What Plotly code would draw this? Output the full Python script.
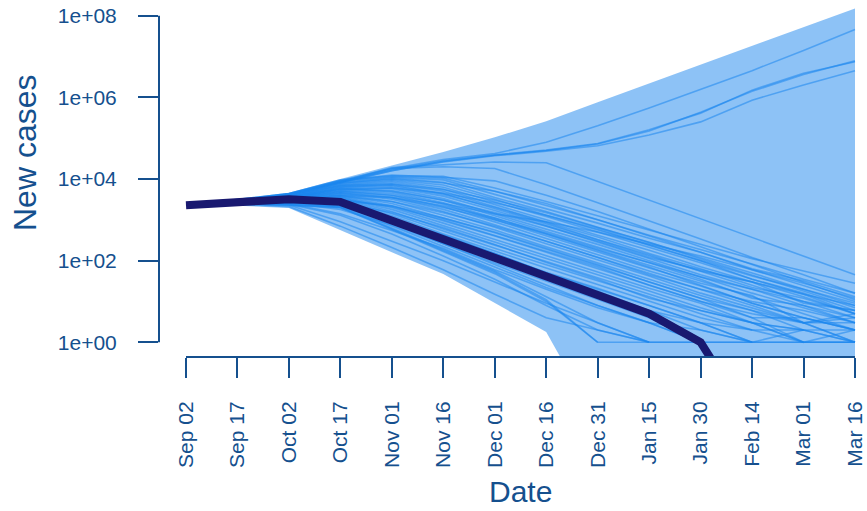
import math
import plotly.graph_objects as go

# Sampling dates (every 15 days) and their axis labels
dates = ["2020-09-02", "2020-09-17", "2020-10-02", "2020-10-17", "2020-11-01",
         "2020-11-16", "2020-12-01", "2020-12-16", "2020-12-31", "2021-01-15",
         "2021-01-30", "2021-02-14", "2021-03-01", "2021-03-16"]
tick_labels = ["Sep 02", "Sep 17", "Oct 02", "Oct 17", "Nov 01", "Nov 16", "Dec 01",
               "Dec 16", "Dec 31", "Jan 15", "Jan 30", "Feb 14", "Mar 01", "Mar 16"]

# Observed new cases
observed = [2270, 2800, 3200, 2750, 970, 340, 118, 41, 14, 5, 1, 0, 0, 0]

# Envelope of the simulated epidemics
band_upper = [2270, 3200, 4600, 1.0e4, 2.1e4, 4.6e4, 1.05e5, 2.6e5, 7.6e5,
              2.2e6, 6.3e6, 1.8e7, 5.2e7, 1.5e8]
band_lower = [2270, 2200, 1950, 560, 160, 47, 9.4, 1.8, 0, 0, 0, 0, 0, 0]

# Individual simulated trajectories
simulations = [
    [2270, 3100, 4400, 9100, 18000, 30000, 42000, 79000, 2.0e5, 5.5e5, 1.6e6, 4.5e6, 1.4e7, 4.6e7],
    [2270, 3000, 4200, 8500, 17000, 28000, 39000, 51000, 74000, 1.6e5, 4.1e5, 1.5e6, 3.9e6, 7.4e6],
    [2270, 2950, 4100, 8300, 16000, 27000, 38000, 50000, 72000, 1.5e5, 4.3e5, 1.4e6, 3.6e6, 7.8e6],
    [2270, 2950, 4000, 7900, 16000, 26000, 37000, 48000, 65000, 1.2e5, 2.5e5, 8.5e5, 2.0e6, 4.5e6],
    [2270, 3000, 4300, 8700, 19000, 22000, 26000, 25000, 8700, 3100, 1050, 360, 130, 45],
    [2270, 2950, 4200, 8300, 18000, 20000, 18000, 7200, 2600, 950, 340, 120, 45, 16],
    [2270, 3100, 4400, 9500, 12000, 11700, 6000, 2800, 1260, 560, 250, 112, 56, 28],
    [2270, 3000, 4200, 8900, 11500, 10500, 5000, 2200, 1000, 420, 190, 83, 35, 16],
    [2270, 2950, 4200, 8500, 11000, 9500, 4200, 1900, 830, 355, 160, 63, 32, 13],
    [2270, 2950, 4000, 7900, 10500, 8300, 3500, 1600, 660, 280, 120, 50, 20, 9],
    [2270, 2900, 4000, 7600, 9500, 7100, 3200, 1300, 560, 240, 100, 42, 20, 8],
    [2270, 2900, 3800, 7200, 8900, 6300, 2800, 1200, 500, 210, 89, 35, 16, 6],
    [2270, 2900, 3800, 6900, 8300, 5600, 2400, 1000, 420, 180, 71, 30, 13, 5],
    [2270, 2800, 3700, 6600, 7600, 5000, 2100, 890, 380, 150, 63, 25, 10, 4],
    [2270, 2800, 3600, 6300, 7100, 4400, 1900, 790, 320, 130, 56, 30, 9, 6],
    [2270, 2800, 3600, 6000, 6300, 3800, 1700, 710, 280, 110, 45, 20, 8, 4],
    [2270, 2800, 3500, 5800, 5800, 3300, 1400, 600, 250, 100, 40, 16, 7, 3],
    [2270, 2750, 3500, 5500, 5200, 3000, 1260, 520, 210, 89, 35, 12, 8, 3],
    [2270, 2750, 3500, 5200, 4800, 2600, 1100, 450, 190, 76, 32, 13, 5, 2],
    [2270, 2750, 3500, 5000, 4400, 2400, 1000, 400, 160, 66, 28, 14, 3, 5],
    [2270, 2750, 3400, 4800, 4000, 2100, 890, 350, 140, 56, 24, 9, 4, 2],
    [2270, 2700, 3300, 4600, 3500, 1800, 760, 300, 120, 50, 20, 8, 3, 1],
    [2270, 2700, 3300, 4400, 3200, 1600, 660, 260, 105, 42, 16, 7, 3, 3],
    [2270, 2700, 3200, 4200, 2800, 1300, 560, 220, 89, 35, 14, 6, 2, 0],
    [2270, 2700, 3200, 4000, 2500, 1100, 480, 190, 76, 30, 12, 4, 4, 2],
    [2270, 2600, 3200, 3800, 2200, 950, 400, 160, 63, 25, 10, 4, 1, 1],
    [2270, 2600, 3100, 3600, 2000, 830, 330, 130, 52, 21, 9, 3, 2, 0],
    [2270, 2600, 3000, 3500, 1800, 710, 280, 110, 45, 18, 7, 3, 1, 0],
    [2270, 2600, 3000, 3300, 1600, 600, 240, 95, 38, 15, 6, 3, 1, 2],
    [2270, 2550, 2900, 3200, 1400, 520, 200, 79, 32, 13, 5, 2, 0, 0],
    [2270, 2550, 2800, 3000, 1260, 450, 170, 66, 26, 10, 4, 2, 2, 1],
    [2270, 2550, 2750, 2800, 1100, 380, 140, 52, 21, 8, 3, 1, 0, 0],
    [2270, 2500, 2700, 2600, 1000, 320, 110, 42, 16, 6, 2, 1, 1, 1],
    [2270, 2500, 2600, 2400, 830, 260, 89, 32, 11, 4, 1, 0, 0, 0],
    [2270, 2500, 2500, 2200, 710, 220, 71, 22, 8, 3, 1, 0, 0, 0],
    [2270, 2500, 2400, 2100, 630, 190, 56, 13, 3, 1, 0, 0, 0, 0],
    [2270, 2500, 2300, 2000, 580, 170, 48, 10, 1, 1, 0, 0, 0, 0],
    [2270, 2450, 2250, 2000, 600, 180, 52, 11, 1, 0, 0, 0, 0, 0],
    [2270, 3000, 4300, 9000, 12500, 11000, 9000, 4000, 1600, 600, 220, 80, 30, 11],
    [2270, 2900, 4000, 8000, 10000, 8000, 5000, 2500, 1000, 400, 160, 60, 25, 10],
    [2270, 2800, 3700, 5500, 6000, 4500, 2600, 1300, 600, 250, 100, 35, 15, 5],
    [2270, 2700, 3300, 4000, 3500, 2000, 1000, 450, 180, 70, 25, 9, 4, 2],
    [2270, 2600, 3000, 3000, 2200, 1100, 500, 200, 80, 30, 12, 6, 3, 1],
    [2270, 2600, 2800, 2000, 1000, 420, 150, 50, 20, 8, 3, 1, 1, 0],
    [2270, 2500, 2500, 1400, 550, 200, 60, 20, 7, 3, 2, 1, 0, 0],
    [2270, 2500, 2300, 900, 300, 100, 30, 9, 3, 1, 1, 1, 2, 1],
    [2270, 2400, 2100, 700, 210, 60, 15, 4, 2, 1, 0, 0, 0, 0],
    [2270, 2700, 3500, 5000, 4000, 2500, 1400, 900, 500, 260, 130, 60, 28, 12],
    [2270, 2800, 3600, 5800, 5000, 3000, 1500, 700, 300, 120, 60, 30, 15, 8],
    [2270, 2750, 3400, 4500, 3600, 2200, 1100, 480, 200, 90, 40, 20, 10, 6],
    [2270, 2700, 3200, 3800, 2800, 1500, 700, 300, 120, 45, 20, 10, 6, 3],
    [2270, 2650, 3000, 3200, 2100, 1000, 420, 170, 70, 25, 10, 5, 3, 4],
    [2270, 2600, 2900, 2600, 1500, 650, 250, 90, 35, 12, 6, 3, 2, 2],
    [2270, 2550, 2700, 2200, 1100, 420, 150, 50, 18, 6, 3, 2, 1, 1],
    [2270, 2500, 2600, 1800, 750, 260, 80, 25, 8, 3, 1, 1, 0, 0],
    [2270, 2450, 2400, 1300, 450, 130, 35, 8, 2, 1, 1, 0, 0, 0],
    [2270, 2900, 4100, 7000, 7500, 5500, 3000, 1500, 650, 280, 110, 45, 18, 7],
    [2270, 2850, 3900, 6500, 6800, 4200, 2000, 850, 330, 140, 55, 22, 12, 5],
]

y_ticks = [1, 1e2, 1e4, 1e6, 1e8]
y_tick_labels = ["1e+00", "1e+02", "1e+04", "1e+06", "1e+08"]

AXIS_COLOR = "#15508E"
FONT = "Liberation Sans, Arial, Helvetica, sans-serif"
FLOOR = 0.01  # zero counts are drawn just below the visible range

Y_RANGE = [-0.36, 8.31]          # log10 units
X_RANGE = ["2020-08-25 03:07", "2021-03-19 12:00"]


def floor_zero(values):
    return [v if v > 0 else FLOOR for v in values]


def gap_zero(values):
    return [v if v > 0 else None for v in values]


def y_paper(value):
    return (math.log10(value) - Y_RANGE[0]) / (Y_RANGE[1] - Y_RANGE[0])


fig = go.Figure()

# Shaded envelope
fig.add_trace(go.Scatter(
    x=dates + dates[::-1],
    y=floor_zero(band_upper) + floor_zero(band_lower)[::-1],
    mode="lines", fill="toself",
    fillcolor="rgba(28,134,238,0.5)",
    line=dict(width=0), hoverinfo="skip", showlegend=False,
))

# Simulated trajectories
for sim in simulations:
    fig.add_trace(go.Scatter(
        x=dates, y=gap_zero(sim), mode="lines",
        line=dict(color="rgba(28,134,238,0.55)", width=1.6),
        connectgaps=False, hoverinfo="skip", showlegend=False,
    ))

# Observed series
fig.add_trace(go.Scatter(
    x=dates, y=floor_zero(observed), mode="lines",
    line=dict(color="#191970", width=8),
    showlegend=False,
))

# Axis lines spanning only the tick range
fig.add_shape(type="line", xref="x", yref="paper",
              x0=dates[0], x1=dates[-1], y0=0, y1=0,
              line=dict(color=AXIS_COLOR, width=2))
fig.add_shape(type="line", xref="paper", yref="paper",
              x0=0, x1=0, y0=y_paper(y_ticks[0]), y1=y_paper(y_ticks[-1]),
              line=dict(color=AXIS_COLOR, width=2))

fig.update_layout(
    width=867, height=511,
    margin=dict(l=159, r=0, t=3, b=154),
    paper_bgcolor="white", plot_bgcolor="white",
    font=dict(family=FONT, color=AXIS_COLOR, size=21),
    xaxis=dict(
        type="date", range=X_RANGE,
        tickvals=dates, ticktext=tick_labels, tickangle=-90,
        ticks="outside", ticklen=20, tickwidth=2, tickcolor=AXIS_COLOR,
        tickfont=dict(size=21, color=AXIS_COLOR, family=FONT),
        ticklabelstandoff=15,
        showgrid=False, zeroline=False, showline=False, automargin=False,
    ),
    yaxis=dict(
        type="log", range=Y_RANGE,
        tickvals=y_ticks, ticktext=y_tick_labels,
        ticks="outside", ticklen=20, tickwidth=2, tickcolor=AXIS_COLOR,
        tickfont=dict(size=21, color=AXIS_COLOR, family=FONT),
        ticklabelstandoff=17,
        showgrid=False, zeroline=False, showline=False, automargin=False,
    ),
    annotations=[
        dict(text="New cases", xref="paper", yref="paper",
             x=(25 - 159) / 708, y=(357 - 153) / 354,
             xanchor="center", yanchor="middle", textangle=-90,
             showarrow=False, font=dict(size=32, color=AXIS_COLOR, family=FONT)),
        dict(text="Date", xref="paper", yref="paper",
             x=(520.5 - 159) / 708, y=(357 - 492) / 354,
             xanchor="center", yanchor="middle",
             showarrow=False, font=dict(size=30, color=AXIS_COLOR, family=FONT)),
    ],
)

fig.write_html("out.html")
